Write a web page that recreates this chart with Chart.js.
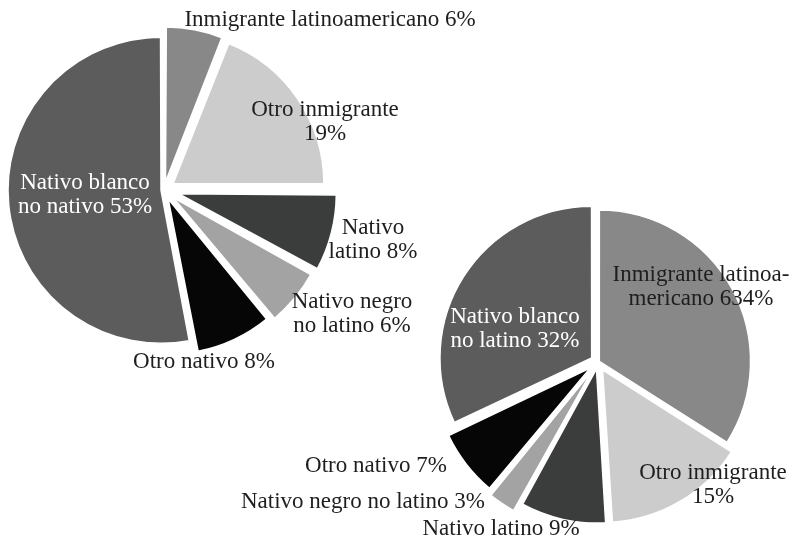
<!DOCTYPE html>
<html>
<head>
<meta charset="utf-8">
<script src="https://cdn.jsdelivr.net/npm/chart.js@4"></script>
<style>
  html, body { margin: 0; padding: 0; background: #ffffff; }
  #wrap { position: relative; width: 795px; height: 541px; }
  #wrap canvas { position: absolute; left: 0; top: 0; }
</style>
</head>
<body>
<div id="wrap">
  <canvas id="pieA" width="795" height="541"></canvas>
  <canvas id="pieB" width="795" height="541"></canvas>
</div>
<script>
// Population groups, in clockwise order from 12 o'clock
const categories = [
  'Inmigrante latinoamericano',
  'Otro inmigrante',
  'Nativo latino',
  'Nativo negro no latino',
  'Otro nativo',
  'Nativo blanco no latino'
];

// Shares (%) for the two groups
const sharesA = [6, 19, 8, 6, 8, 53];
const sharesB = [34, 15, 9, 3, 7, 32];

// Label text lines, one entry per slice
const labelsA = [
  ['Inmigrante latinoamericano 6%'],
  ['Otro inmigrante', '19%'],
  ['Nativo', 'latino 8%'],
  ['Nativo negro', 'no latino 6%'],
  ['Otro nativo 8%'],
  ['Nativo blanco', 'no nativo 53%']
];
const labelsB = [
  ['Inmigrante latinoa-', 'mericano 634%'],
  ['Otro inmigrante', '15%'],
  ['Nativo latino 9%'],
  ['Nativo negro no latino 3%'],
  ['Otro nativo 7%'],
  ['Nativo blanco', 'no latino 32%']
];

const sliceColors = ['#878887', '#cbcccb', '#3b3d3c', '#a2a3a2', '#060606', '#5b5c5b'];
const darkText = '#1e1e1e';
const lightText = '#ffffff';

// Draws the text labels beside / inside each slice
const sliceLabels = {
  id: 'sliceLabels',
  afterDatasetsDraw(chart, args, opts) {
    const { ctx } = chart;
    const meta = chart.getDatasetMeta(0);
    ctx.save();
    ctx.font = opts.font;
    ctx.textAlign = 'center';
    ctx.textBaseline = 'middle';
    meta.data.forEach((arc, i) => {
      const lines = opts.lines[i];
      const [dx, dy] = opts.nudge[i];
      const x = arc.x + dx;
      const y = arc.y + dy;
      ctx.fillStyle = opts.colors[i];
      const n = lines.length;
      lines.forEach((t, k) => {
        ctx.fillText(t, x, y + (k - (n - 1) / 2) * opts.lineHeight);
      });
    });
    ctx.restore();
  }
};

// Chart.js moves an arc by offset / 4 pixels, so explosion distances are scaled by 4
function makePie(id, shares, lines, explode, radius, padding, nudge, textColors) {
  return new Chart(document.getElementById(id), {
    type: 'pie',
    data: {
      labels: categories,
      datasets: [{
        data: shares,
        backgroundColor: sliceColors,
        borderColor: '#ffffff',
        borderWidth: 1.5,
        offset: explode.map(d => d * 4),
        radius: radius
      }]
    },
    options: {
      responsive: false,
      animation: false,
      layout: { padding: padding },
      plugins: {
        legend: { display: false },
        tooltip: { enabled: false },
        sliceLabels: {
          font: '23px "Liberation Serif", "Times New Roman", serif',
          lineHeight: 24,
          lines: lines,
          nudge: nudge,
          colors: textColors
        }
      }
    },
    plugins: [sliceLabels]
  });
}

makePie('pieA', sharesA, labelsA,
  [8, 11, 15, 12, 10, 3], 150,
  { left: 0, right: 467, top: 0, bottom: 161 },
  [[166, -170], [161, -68], [209, 50], [188, 124], [40, 172], [-79, 5]],
  [darkText, darkText, darkText, darkText, darkText, lightText]);

makePie('pieB', sharesB, labelsB,
  [1.5, 9, 7, 11, 10, 7.5], 151,
  { left: 401, right: 0, top: 183, bottom: 0 },
  [[103, -75], [115, 123], [-97, 167], [-235, 140], [-222, 104], [-83, -33]],
  [darkText, darkText, darkText, darkText, darkText, lightText]);
</script>
</body>
</html>
